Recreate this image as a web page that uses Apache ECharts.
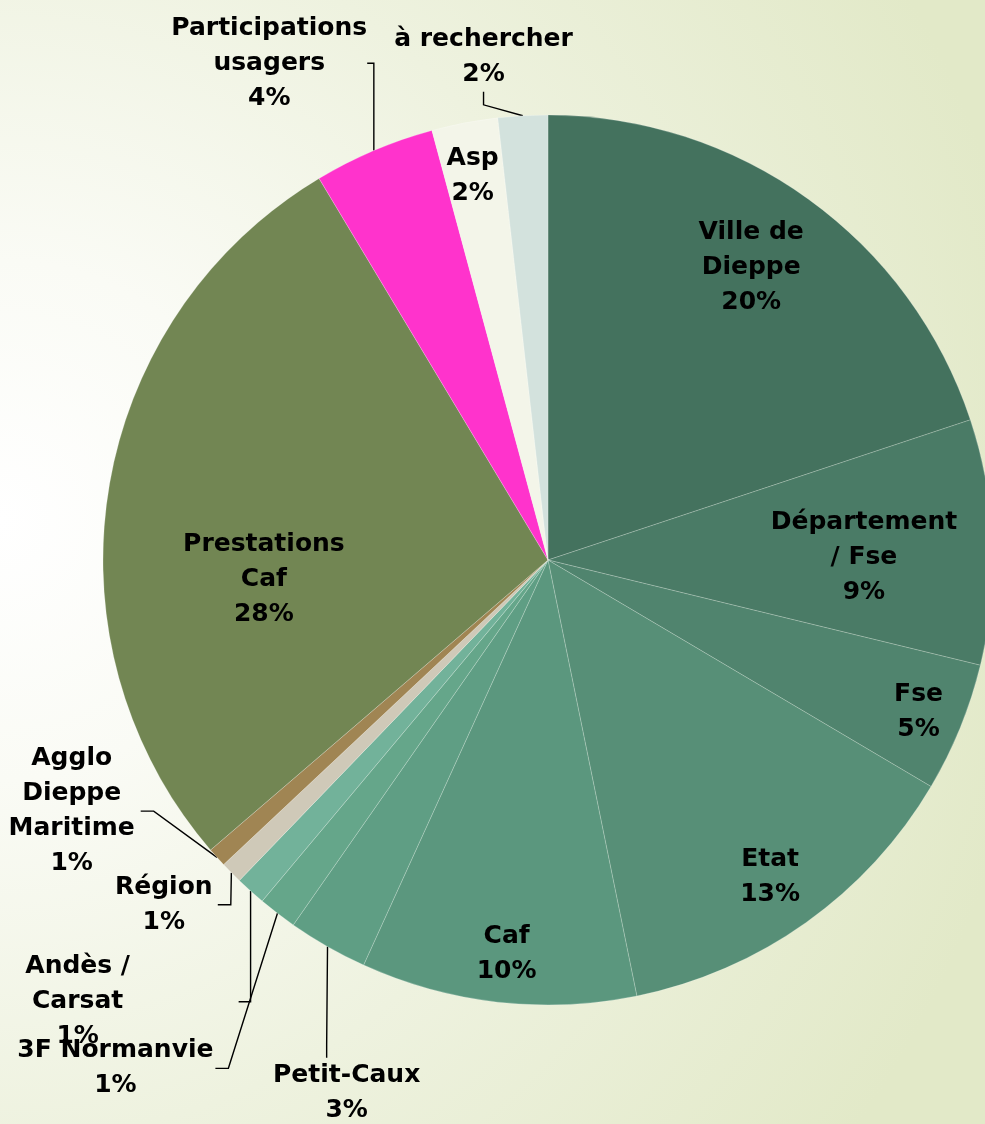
<!DOCTYPE html>
<html>
<head>
<meta charset="utf-8">
<script src="https://cdn.jsdelivr.net/npm/echarts@6/dist/echarts.min.js"></script>
<style>
  html, body { margin: 0; padding: 0; }
  body {
    background: radial-gradient(circle at 0px 520px, #ffffff 0px, #fafbf5 260px, #eef2df 620px, #e2e9c8 1050px);
  }
  #chart { width: 985px; height: 1124px; }
</style>
</head>
<body>
<div id="chart"></div>
<script>
// slices, clockwise from 12 o'clock (share of total, %)
const names = ['Ville de\nDieppe', 'Département\n/ Fse', 'Fse', 'Etat', 'Caf', 'Petit-Caux', '3F Normanvie',
  'Andès /\nCarsat', 'Région', 'Agglo\nDieppe\nMaritime', 'Prestations\nCaf', 'Participations\nusagers', 'Asp', 'à rechercher']
const values = [19.9, 8.9, 4.7, 13.3, 10.0, 2.9, 1.4, 1.1, 0.8, 0.7, 27.7, 4.4, 2.4, 1.8]
const colors = ['#44725e', '#4a7b66', '#50846e', '#578f77', '#5b977e', '#5f9e84', '#65a68a',
  '#72b29a', '#cfc9b8', '#a08553', '#728653', '#ff33cc', '#f3f5e9', '#d3e2dd']

// label spots: angle clockwise from top (deg) and distance as share of the radius
const labelAngles = [34.8, 89.6, 112.3, 145, 186, 200.7, 220.4, 226.8, 228.1, 242.2, 266, 330.7, 348.9, 352.7]
const labelDist = [0.80, 0.71, 0.90, 0.87, 0.89, 1.28, 1.50, 1.45, 1.16, 1.21, 0.64, 1.28, 0.88, 1.14]
const outside = [false, false, false, false, false, true, true, true, true, true, false, true, false, true]
// label box width (where the leader line attaches), left padding
const boxWidth = [null, null, null, null, null, null, 200, 322, 108, 138, null, 124, null, null]
const padLeft = [0, 0, 0, 0, 0, 40, 0, 0, 0, 0, 0, 0, 0, 0]

const cx = 548, cy = 560, R = 445

const chart = echarts.init(document.getElementById('chart'))

chart.setOption({
  backgroundColor: 'transparent',
  animation: false,
  series: [{
    type: 'pie',
    center: [cx, cy],
    radius: R,
    startAngle: 90,
    clockwise: true,
    percentPrecision: 0,
    avoidLabelOverlap: false,
    itemStyle: {
      borderColor: 'rgba(255,255,255,0.35)',
      borderWidth: 0.6
    },
    label: {
      formatter: '{b}\n{d}%',
      fontFamily: '"Century Gothic", "DejaVu Sans", sans-serif',
      fontWeight: 'bold',
      fontSize: 25,
      lineHeight: 35,
      color: '#000',
      align: 'center',
      overflow: 'none'
    },
    labelLine: {
      lineStyle: { color: '#000', width: 1.4 },
      length: 20,
      length2: 13
    },
    labelLayout: function (params) {
      const i = params.dataIndex
      const a = labelAngles[i] * Math.PI / 180
      return {
        x: cx + R * labelDist[i] * Math.sin(a) - padLeft[i] / 2,
        y: cy - R * labelDist[i] * Math.cos(a),
        align: 'center',
        verticalAlign: 'middle'
      }
    },
    data: names.map((n, i) => ({
      name: n,
      value: values[i],
      itemStyle: { color: colors[i] },
      label: {
        position: outside[i] ? 'outside' : 'inside',
        width: boxWidth[i] == null ? undefined : boxWidth[i],
        overflow: 'none',
        padding: [0, 0, 0, padLeft[i]]
      },
      labelLine: { show: outside[i] }
    }))
  }]
})
</script>
</body>
</html>
